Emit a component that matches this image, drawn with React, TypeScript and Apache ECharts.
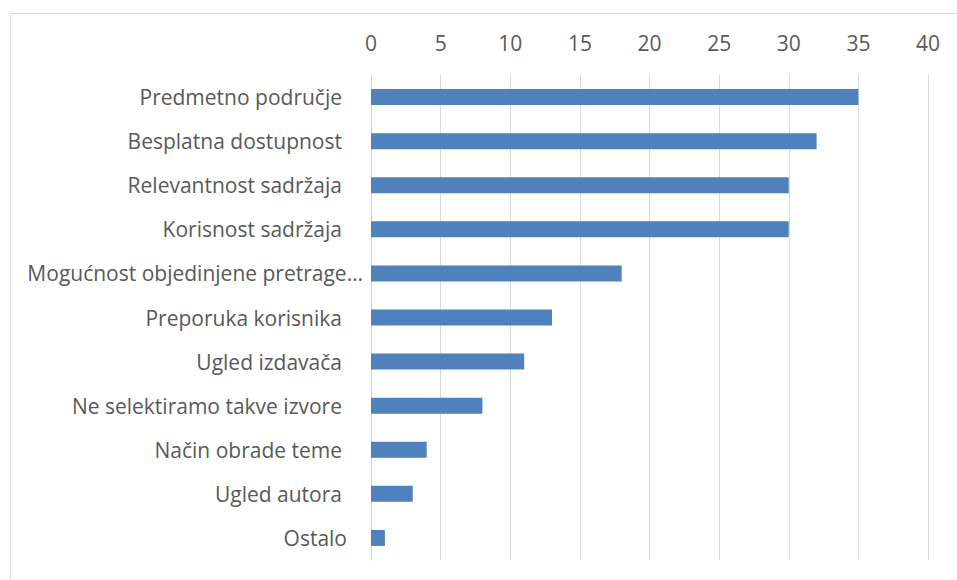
import React, { useEffect, useRef } from "react";
import * as echarts from "echarts";

const categories = [
  "Predmetno područje",
  "Besplatna dostupnost",
  "Relevantnost sadržaja",
  "Korisnost sadržaja",
  "Mogućnost objedinjene pretrage…",
  "Preporuka korisnika",
  "Ugled izdavača",
  "Ne selektiramo takve izvore",
  "Način obrade teme",
  "Ugled autora",
  "Ostalo",
];
const values = [35, 32, 30, 30, 18, 13, 11, 8, 4, 3, 1];
const labelPad = [0, 0, 0, 0, -21, 0, 0, 0, 0, 0, -5];

export default function App() {
  const ref = useRef<HTMLDivElement>(null);
  useEffect(() => {
    document.body.style.margin = "0";
    const chart = echarts.init(ref.current!, undefined, { renderer: "svg" });
    const font = "'Open Sans', 'Noto Sans', sans-serif";
    const fs = 21;
    const rich: any = {};
    labelPad.forEach((p, i) => {
      rich["l" + i] = {
        fontFamily: font,
        fontSize: fs,
        color: "#595959",
        padding: [0, p, 0, 0],
      };
    });
    chart.setOption({
      animation: false,
      backgroundColor: "#ffffff",
      graphic: [
        {
          type: "rect",
          shape: { x: 10.5, y: 13.5, width: 980, height: 600 },
          style: { fill: "none", stroke: "#d9d9d9", lineWidth: 1 },
          silent: true,
        },
      ],
      grid: { left: 371, right: 29, top: 75, bottom: 20, containLabel: false },
      xAxis: {
        type: "value",
        position: "top",
        min: 0,
        max: 40,
        interval: 5,
        axisLine: { show: false },
        axisTick: { show: false },
        splitLine: { show: true, lineStyle: { color: "#d9d9d9", width: 1 } },
        axisLabel: { fontFamily: font, fontSize: fs, color: "#595959", margin: 22 },
      },
      yAxis: {
        type: "category",
        inverse: true,
        data: categories,
        axisLine: { show: true, lineStyle: { color: "#d0d0d0", width: 1 } },
        axisTick: { show: false },
        axisLabel: {
          margin: 29,
          formatter: (v: string, i: number) => `{l${i}|${v}}`,
          rich,
        },
      },
      series: [
        {
          type: "bar",
          data: values,
          barWidth: 16,
          itemStyle: { color: "#4f81bd" },
        },
      ],
    });
    return () => chart.dispose();
  }, []);
  return <div ref={ref} style={{ width: 957, height: 580 }} />;
}
